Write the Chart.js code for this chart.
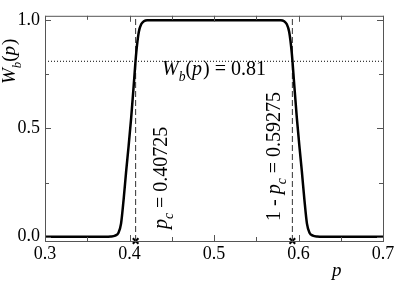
<!DOCTYPE html>
<html>
<head>
<meta charset="utf-8">
<script src="https://cdn.jsdelivr.net/npm/chart.js@4/dist/chart.umd.min.js"></script>
<style>
  html, body { margin: 0; padding: 0; background: #fff; }
  canvas { display: block; }
</style>
</head>
<body>
<canvas id="chart" width="399" height="284"></canvas>
<script>
/* ---- data ---- */
const pVals = [0.300, 0.370, 0.378, 0.383, 0.387, 0.390, 0.393, 0.396, 0.399, 0.402,
               0.405, 0.408, 0.411, 0.414, 0.417, 0.421, 0.430, 0.500,
               0.570, 0.579, 0.583, 0.586, 0.589, 0.592, 0.595, 0.598, 0.601,
               0.604, 0.607, 0.610, 0.613, 0.617, 0.622, 0.630, 0.700];
const wVals = [0.000, 0.000, 0.001, 0.005, 0.018, 0.060, 0.170, 0.300, 0.420, 0.550,
               0.700, 0.850, 0.945, 0.982, 0.995, 1.000, 1.000, 1.000,
               1.000, 1.000, 0.995, 0.982, 0.945, 0.850, 0.700, 0.550, 0.420,
               0.300, 0.170, 0.060, 0.018, 0.005, 0.001, 0.000, 0.000];
const criticalP  = [0.40725, 0.59275];
const threshold  = 0.81;
const xTickVals  = [0.30, 0.35, 0.40, 0.45, 0.50, 0.55, 0.60, 0.65, 0.70];
const xTickLabels = ['0.3', '', '0.4', '', '0.5', '', '0.6', '', '0.7'];
const yTickVals  = [0.00, 0.25, 0.50, 0.75, 1.00];
const yTickLabels = ['0.0', '', '0.5', '', '1.0'];

const X_MIN = 0.3, X_MAX = 0.7, Y_MIN = -0.02, Y_MAX = 1.02;
const SERIF = '"Liberation Serif", serif';
Chart.defaults.font.family = SERIF;

// text with italic / subscript pieces
function drawRich(ctx, segs, x, y, size) {
  let cx = x;
  segs.forEach(function (s) {
    const fs = s.sub ? size * 0.68 : size;
    ctx.font = (s.it ? 'italic ' : '') + fs + 'px ' + SERIF;
    ctx.fillText(s.t, cx, y + (s.sub ? size * 0.3 : 0));
    cx += ctx.measureText(s.t).width + (s.gap || 0);
  });
}
function drawRotated(ctx, segs, x, y, size) {
  ctx.save();
  ctx.translate(x, y);
  ctx.rotate(-Math.PI / 2);
  drawRich(ctx, segs, 0, 0, size);
  ctx.restore();
}

const framePlugin = {
  id: 'frame',
  afterDraw(chart) {
    const ctx = chart.ctx, a = chart.chartArea;
    const xs = chart.scales.x, ys = chart.scales.y;
    ctx.save();
    ctx.strokeStyle = '#555';
    ctx.lineWidth = 1;
    ctx.strokeRect(a.left + 0.5, a.top + 0.5, a.right - a.left, a.bottom - a.top);
    ctx.beginPath();
    xTickVals.forEach(function (v, i) {
      const px = Math.round(xs.getPixelForValue(v)) + 0.5;
      const len = xTickLabels[i] ? 6 : 4;
      ctx.moveTo(px, a.bottom); ctx.lineTo(px, a.bottom - len);
      ctx.moveTo(px, a.top);    ctx.lineTo(px, a.top + len);
    });
    yTickVals.forEach(function (v, i) {
      const py = Math.round(ys.getPixelForValue(v)) + 0.5;
      const len = yTickLabels[i] ? 6 : 4;
      ctx.moveTo(a.left, py);  ctx.lineTo(a.left + len, py);
      ctx.moveTo(a.right, py); ctx.lineTo(a.right - len, py);
    });
    ctx.stroke();

    // labels and titles
    ctx.fillStyle = '#000';
    ctx.textBaseline = 'alphabetic';
    ctx.textAlign = 'left';
    drawRich(ctx, [{t: 'W', it: true}, {t: 'b', it: true, sub: true}, {t: '('}, {t: 'p', it: true, gap: 1}, {t: ') = 0.81'}], 162, 75, 20);
    drawRotated(ctx, [{t: 'W', it: true}, {t: 'b', it: true, sub: true}, {t: '('}, {t: 'p', it: true, gap: 1}, {t: ')'}], 15, 84, 19);
    drawRich(ctx, [{t: 'p', it: true}], 332, 276, 19);
    drawRotated(ctx, [{t: 'p', it: true}, {t: 'c', it: true, sub: true}, {t: ' = 0.40725'}], 167, 229, 20);
    drawRotated(ctx, [{t: '1 - '}, {t: 'p', it: true}, {t: 'c', it: true, sub: true}, {t: ' = 0.59275'}], 280, 221, 20);
    ctx.restore();
  }
};

const curve = pVals.map(function (p, i) { return {x: p, y: wVals[i]}; });
const guideSets = criticalP.map(function (pc) {
  return {
    data: [{x: pc, y: Y_MIN}, {x: pc, y: Y_MAX}],
    showLine: true, borderColor: '#333', borderWidth: 1,
    borderDash: [6, 3], pointRadius: 0
  };
});

new Chart(document.getElementById('chart'), {
  type: 'scatter',
  data: {
    datasets: [
      {
        data: curve, showLine: true, borderColor: '#000', borderWidth: 2.5,
        cubicInterpolationMode: 'monotone', pointRadius: 0
      },
      {
        data: [{x: X_MIN, y: threshold}, {x: X_MAX, y: threshold}],
        showLine: true, borderColor: '#000', borderWidth: 1,
        borderDash: [1, 2], pointRadius: 0
      }
    ].concat(guideSets).concat([
      {
        data: criticalP.map(function (pc) { return {x: pc, y: Y_MIN}; }),
        showLine: false, pointStyle: 'crossRot', pointRadius: 4,
        borderColor: '#000', borderWidth: 2, clip: false
      }
    ])
  },
  options: {
    responsive: false,
    animation: false,
    devicePixelRatio: 1,
    layout: { padding: { top: 7, right: 16, left: 0, bottom: 0 } },
    plugins: { legend: { display: false }, tooltip: { enabled: false } },
    scales: {
      x: {
        type: 'linear', min: X_MIN, max: X_MAX,
        afterBuildTicks: function (s) { s.ticks = xTickVals.map(function (v) { return {value: v}; }); },
        afterFit: function (s) { s.height = 43; },
        grid: { display: false, drawTicks: false },
        border: { display: false },
        ticks: {
          autoSkip: false, maxRotation: 0, padding: 2, color: '#000',
          font: { family: SERIF, size: 18 },
          callback: function (v, i) { return xTickLabels[i]; }
        }
      },
      y: {
        type: 'linear', min: Y_MIN, max: Y_MAX,
        afterBuildTicks: function (s) { s.ticks = yTickVals.map(function (v) { return {value: v}; }); },
        afterFit: function (s) { s.width = 45; },
        grid: { display: false, drawTicks: false },
        border: { display: false },
        ticks: {
          autoSkip: false, padding: 5, color: '#000',
          font: { family: SERIF, size: 18 },
          callback: function (v, i) { return yTickLabels[i]; }
        }
      }
    }
  },
  plugins: [framePlugin]
});
</script>
</body>
</html>
